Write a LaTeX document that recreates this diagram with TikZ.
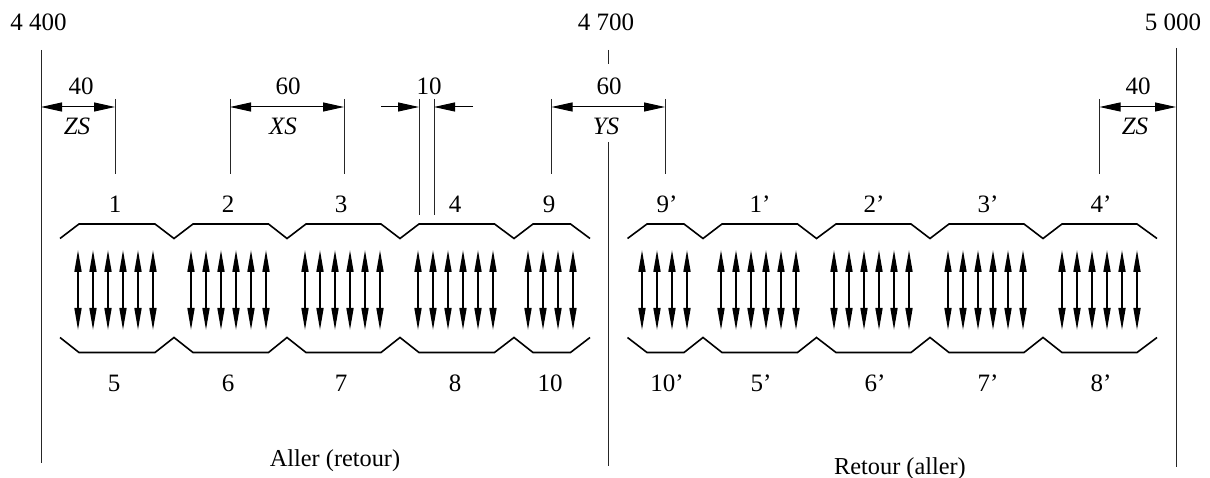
\documentclass[tikz,border=0pt]{standalone}
\usepackage{fontspec}
\setmainfont{Liberation Serif}
\usetikzlibrary{arrows.meta}
\tikzset{
  x=1pt,y=-1pt,
  lab/.style={anchor=base,inner sep=0pt,font=\fontsize{25}{28}\selectfont},
  ilab/.style={lab,font=\fontsize{25}{28}\selectfont\itshape},
  caplab/.style={lab,font=\fontsize{24.3}{28}\selectfont},
  guide/.style={line width=1pt,color=black!85},
  dimline/.style={line width=1pt,{Triangle[length=21pt,width=9pt]}-{Triangle[length=21pt,width=9pt]}},
  dimone/.style={line width=1pt,-{Triangle[length=21pt,width=9pt]}},
  profile/.style={line width=1.6pt,line join=miter},
  twoway/.style={line width=1.6pt,{Triangle[length=22pt,width=7pt]}-{Triangle[length=22pt,width=7pt]}}
}
\begin{document}
\begin{tikzpicture}
\useasboundingbox (0,0) rectangle (1210,478);
% main vertical lines
\coordinate (La) at (41,50);   \coordinate (Lb) at (41,463);
\coordinate (Ma) at (608,50);  \coordinate (Mb) at (608,64);
\coordinate (Mc) at (608,142); \coordinate (Md) at (608,466);
\coordinate (Ra) at (1176,48); \coordinate (Rb) at (1176,467);
\draw[guide] (La) -- (Lb);
\draw[guide] (Ma) -- (Mb);
\draw[guide] (Mc) -- (Md);
\draw[guide] (Ra) -- (Rb);
% extension lines
\foreach \n/\x/\e in {e1/115/174,e2/230/174,e3/344/174,e4/419/215,e5/434/215,e6/551.5/174,e7/665/174,e8/1099.5/174}{
  \coordinate (\n a) at (\x,99);
  \coordinate (\n b) at (\x,\e);
  \coordinate (\n d) at (\x,107);
  \draw[guide] (\n a) -- (\n b);
}
\coordinate (Ld) at (41,107);
\coordinate (Rd) at (1176,107);
\coordinate (f1) at (381,107);
\coordinate (f2) at (473,107);
% dimension arrows
\draw[dimline] (Ld) -- (e1d);
\draw[dimline] (e2d) -- (e3d);
\draw[dimone] (f1) -- (e4d);
\draw[dimone] (f2) -- (e5d);
\draw[dimline] (e6d) -- (e7d);
\draw[dimline] (e8d) -- (Rd);
% profiles
\draw[profile] (60,238.5)--(79,224)--(155,224)--(174,238.5)--(193,224)--(268.5,224)--(287,238.5)--(306,224)--(381,224)--(400,238.5)--(419,224)--(494.5,224)--(514,238.5)--(533,224)--(570.5,224)--(590,238.5);
\draw[profile] (627.5,238.5)--(647,224)--(684,224)--(703,238.5)--(722,224)--(797.5,224)--(816.5,238.5)--(836,224)--(911,224)--(930,238.5)--(949,224)--(1024,224)--(1043,238.5)--(1062,224)--(1137,224)--(1157,238.5);
\draw[profile] (60,337.5)--(79,352.5)--(155,352.5)--(174,337.5)--(193,352.5)--(268.5,352.5)--(287,337.5)--(306,352.5)--(381,352.5)--(400,337.5)--(419,352.5)--(494.5,352.5)--(514,337.5)--(533,352.5)--(570.5,352.5)--(590,337.5);
\draw[profile] (627.5,337.5)--(647,352.5)--(684,352.5)--(703,337.5)--(722,352.5)--(797.5,352.5)--(816.5,337.5)--(836,352.5)--(911,352.5)--(930,337.5)--(949,352.5)--(1024,352.5)--(1043,337.5)--(1062,352.5)--(1137,352.5)--(1157,337.5);
% double arrows
\foreach \x [count=\i] in {78,93,108,123,138,153,191,206,221,236,251,266,305,320,335,350,365,380,418,433,448,463,478,493,528,543,558,573,642,657,672,687,721,736,751,766,781,796,834,849,864,879,894,909,948,963,978,993,1008,1023,1062,1077,1092,1107,1122,1137}{
  \coordinate (u\i) at (\x,250);
  \coordinate (v\i) at (\x,330);
  \draw[twoway] (u\i) -- (v\i);
}
% position labels
\node[lab] (p1) at (38.5,31) {4 400};
\node[lab] (p2) at (606,31) {4 700};
\node[lab] (p3) at (1173,31) {5 000};
% dimensions
\node[lab] (d1) at (81,95) {40};
\node[lab] (d2) at (288,95) {60};
\node[lab] (d3) at (429,95) {10};
\node[lab] (d4) at (609,95) {60};
\node[lab] (d5) at (1138,95) {40};
\node[ilab] (z1) at (77,135) {ZS};
\node[ilab] (x1) at (283,135) {XS};
\node[ilab] (y1) at (606,135) {YS};
\node[ilab] (z2) at (1135,135) {ZS};
% top numbers
\foreach \t/\x [count=\i] in {1/115,2/228,3/341,4/455,9/549,9’/667,1’/760,2’/874,3’/988,4’/1101}{
  \node[lab] (top\i) at (\x,213) {\t};
}
% bottom numbers
\foreach \t/\x [count=\i] in {5/114,6/228,7/341,8/455,10/550,10’/667,5’/761,6’/875,7’/988,8’/1101}{
  \node[lab] (bot\i) at (\x,391) {\t};
}
\node[caplab] (c1) at (335,466) {Aller (retour)};
\node[caplab] (c2) at (900,474) {Retour (aller)};
\end{tikzpicture}
\end{document}
